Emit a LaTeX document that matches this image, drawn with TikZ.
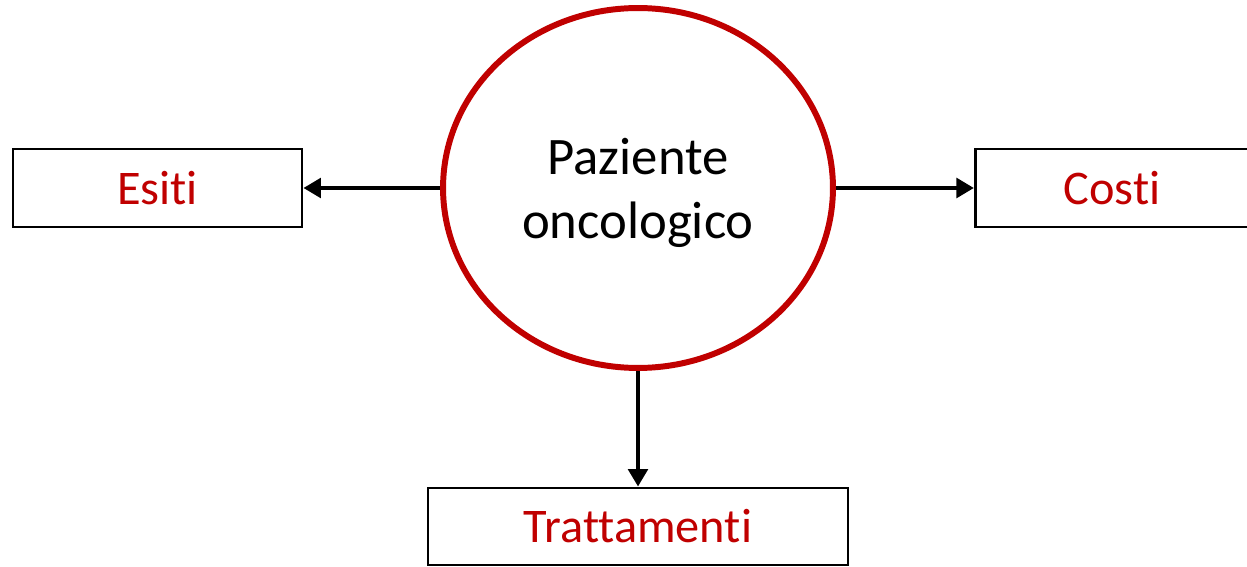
\documentclass[tikz,border=0pt]{standalone}
\usepackage{fontspec}
\setmainfont{Carlito}[RawFeature={-liga;-clig;-dlig;-calt;-rlig}]
\usetikzlibrary{shapes.geometric,arrows.meta}
\definecolor{dred}{RGB}{192,0,0}
\newcommand{\nl}{\kern0pt }
\begin{document}
\begin{tikzpicture}[x=0.02cm,y=-0.02cm,
  box/.style={draw=black,line width=1.6pt,fill=white,text=dred,font=\fontsize{27.5}{33}\selectfont},
  conn/.style={draw=black,line width=2.5pt,-{Triangle[length=10pt,width=11pt]}}]
\useasboundingbox (0,0) rectangle (1247,567);
\node[ellipse,draw=dred,line width=3.4pt,inner sep=0pt,
  minimum width=7.8cm,minimum height=7.2cm] (p) at (638,188) {};
\node[align=center,font=\fontsize{30}{36}\selectfont] (pt) at (638,193) {Paziente\\oncologico};
\node[box,minimum width=5.78cm,minimum height=1.56cm] (e) at (157.5,188) {Esit\nl i};
\node[box,minimum width=5.46cm,minimum height=1.56cm,anchor=west] (c) at (974,188) {Cost\nl i};
\node[box,minimum width=8.4cm,minimum height=1.54cm] (t) at (638,526.5) {Trattament\nl i};
\draw[conn] (p.west) -- (e.east);
\draw[conn] (p.east) -- (c.west);
\draw[conn] (p.south) -- (t.north);
\end{tikzpicture}
\end{document}
